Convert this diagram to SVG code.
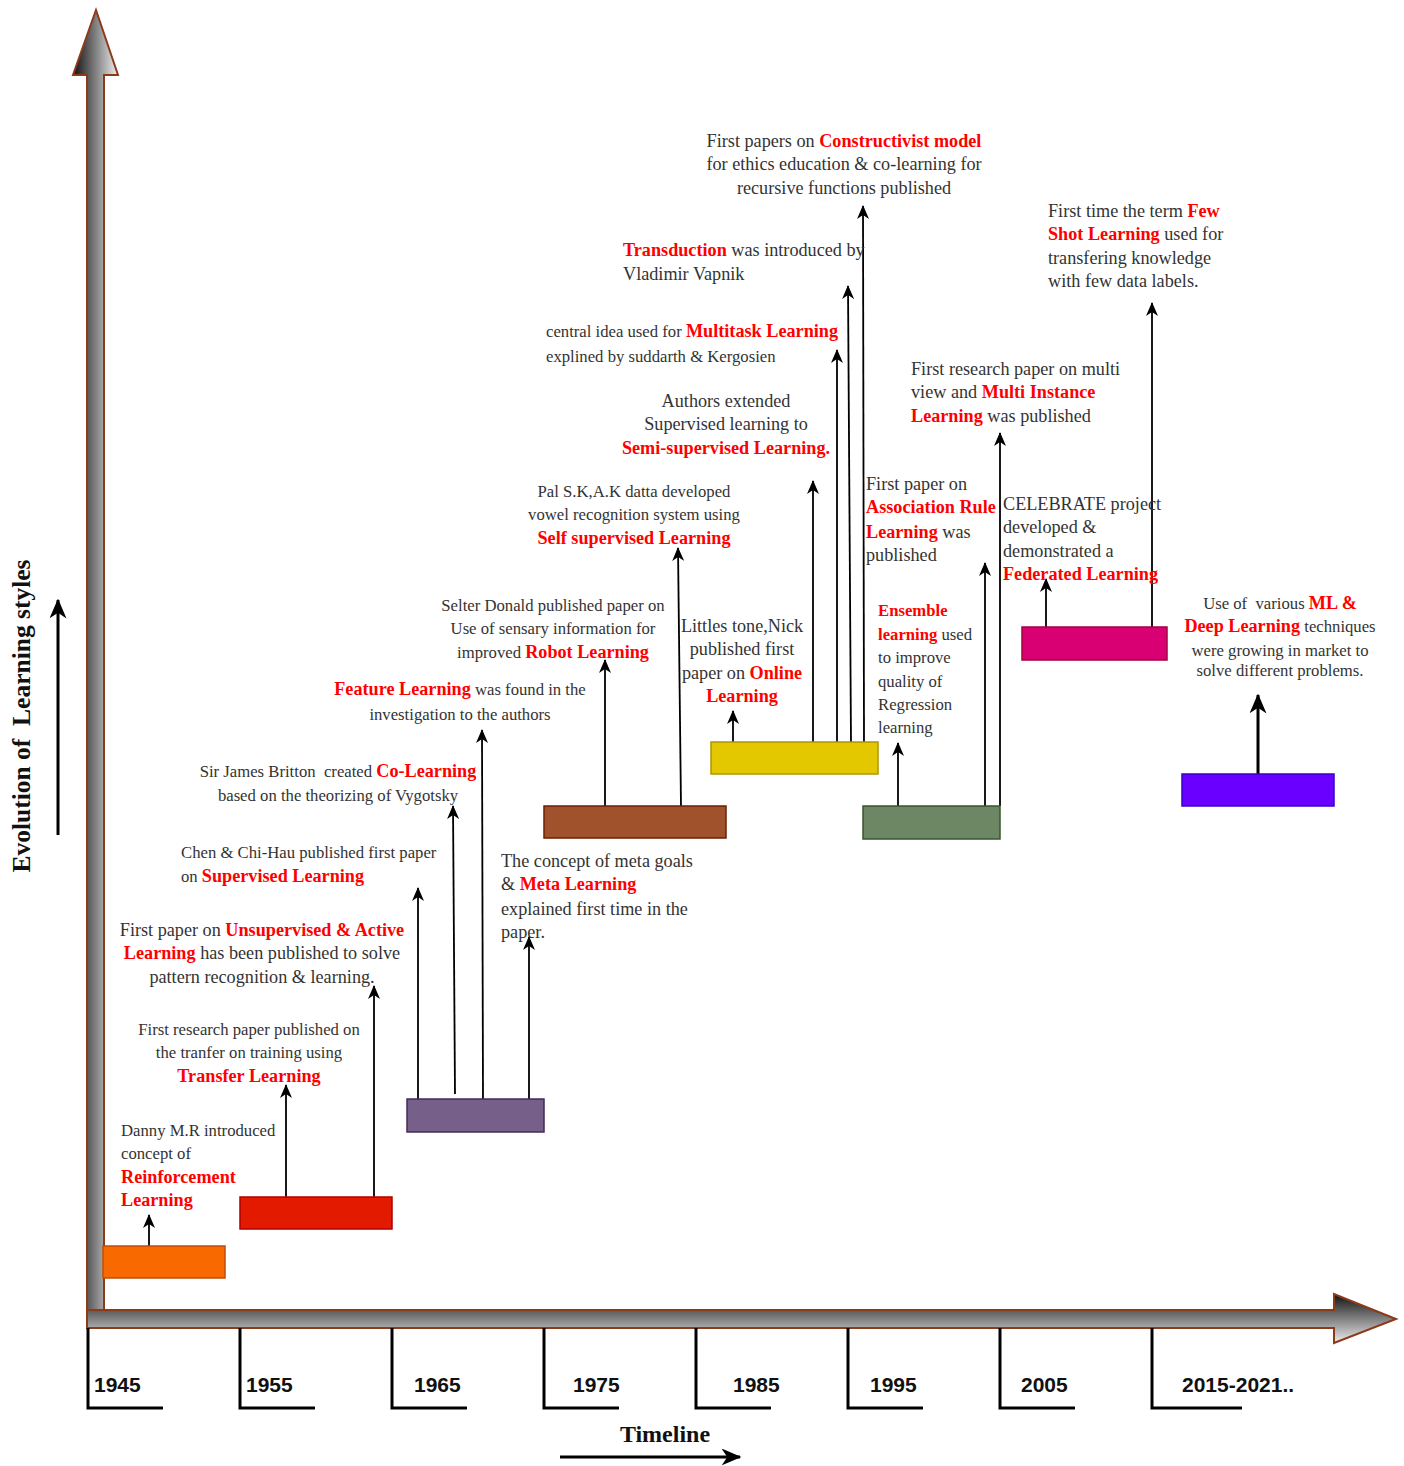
<svg xmlns="http://www.w3.org/2000/svg" width="1404" height="1466" viewBox="0 0 1404 1466">
<defs>
<linearGradient id="gv" x1="0" y1="0" x2="1" y2="0">
<stop offset="0" stop-color="#111"/><stop offset="1" stop-color="#eee"/>
</linearGradient>
<linearGradient id="gh" x1="0" y1="0" x2="0" y2="1">
<stop offset="0" stop-color="#111"/><stop offset="1" stop-color="#eee"/>
</linearGradient>
<marker id="ah" viewBox="0 0 14 12" refX="13" refY="6" markerWidth="14" markerHeight="12" markerUnits="userSpaceOnUse" orient="auto">
<path d="M0,0 L14,6 L0,12 L4,6 Z" fill="#000"/>
</marker>
<marker id="ahb" viewBox="0 0 14 12" refX="13" refY="6" markerWidth="20" markerHeight="17" markerUnits="userSpaceOnUse" orient="auto">
<path d="M0,0 L14,6 L0,12 L4,6 Z" fill="#000"/>
</marker>
</defs>
<style>
.t{font-family:"Liberation Serif","Times New Roman",serif;font-size:18.2px;fill:#333;}
.s{font-size:16.7px;}
.r{font-weight:bold;fill:#ff0000;font-size:18.2px;}
.m{text-anchor:middle;}
.yr{font-family:"Liberation Sans",Arial,sans-serif;font-weight:bold;font-size:21px;fill:#111;}
.ax{fill:none;stroke:#000;stroke-width:3;}
.c{stroke:#000;stroke-width:1.8;fill:none;marker-end:url(#ah);}
.b{stroke-width:1.5;}
</style>
<rect width="1404" height="1466" fill="#fff"/>

<g id="axes">
<polygon points="87,1310 87,75 73,75 96,10 118,75 104,75 104,1310" fill="url(#gv)" stroke="#8B3A1A" stroke-width="2"/>
<polygon points="87,1310 1334,1310 1334,1294 1396,1319 1334,1343 1334,1328 87,1328" fill="url(#gh)" stroke="#8B3A1A" stroke-width="2"/>
</g>

<g id="timeline-ticks">
<path class="ax" d="M88,1328 V1408 H163"/>
<path class="ax" d="M240,1328 V1408 H315"/>
<path class="ax" d="M392,1328 V1408 H467"/>
<path class="ax" d="M544,1328 V1408 H619"/>
<path class="ax" d="M696,1328 V1408 H771"/>
<path class="ax" d="M848,1328 V1408 H923"/>
<path class="ax" d="M1000,1328 V1408 H1075"/>
<path class="ax" d="M1152,1328 V1408 H1242"/>
<text class="yr" x="94" y="1392">1945</text>
<text class="yr" x="246" y="1392">1955</text>
<text class="yr" x="414" y="1392">1965</text>
<text class="yr" x="573" y="1392">1975</text>
<text class="yr" x="733" y="1392">1985</text>
<text class="yr" x="870" y="1392">1995</text>
<text class="yr" x="1021" y="1392">2005</text>
<text class="yr" x="1182" y="1392">2015-2021..</text>
</g>

<g id="axis-titles">
<text x="665" y="1442" text-anchor="middle" style="font-family:'Liberation Serif',serif;font-weight:bold;font-size:24px;fill:#111;">Timeline</text>
<line x1="560" y1="1457" x2="740" y2="1457" stroke="#000" stroke-width="3" marker-end="url(#ahb)"/>
<text transform="translate(30,716) rotate(-90)" text-anchor="middle" style="font-family:'Liberation Serif',serif;font-weight:bold;font-size:25.5px;fill:#111;">Evolution of&#160; Learning styles</text>
<line x1="58" y1="835" x2="58" y2="600" stroke="#000" stroke-width="3" marker-end="url(#ahb)"/>
</g>

<g id="connectors">
<line class="c" x1="149" y1="1246" x2="149" y2="1215"/>
<line class="c" x1="286" y1="1197" x2="286" y2="1085"/>
<line class="c" x1="374" y1="1197" x2="374" y2="986"/>
<line class="c" x1="418" y1="1099" x2="418" y2="888"/>
<line class="c" x1="455" y1="1094" x2="453" y2="806"/>
<line class="c" x1="483" y1="1099" x2="482" y2="730"/>
<line class="c" x1="529" y1="1099" x2="529" y2="937"/>
<line class="c" x1="605" y1="806" x2="605" y2="660"/>
<line class="c" x1="681" y1="806" x2="678" y2="548"/>
<line class="c" x1="733" y1="742" x2="733" y2="711"/>
<line class="c" x1="813" y1="742" x2="813" y2="481"/>
<line class="c" x1="837" y1="742" x2="837" y2="350"/>
<line class="c" x1="851" y1="742" x2="848" y2="286"/>
<line class="c" x1="864" y1="744" x2="863" y2="206"/>
<line class="c" x1="898" y1="806" x2="898" y2="743"/>
<line class="c" x1="985" y1="806" x2="985" y2="563"/>
<line class="c" x1="1000" y1="806" x2="1000" y2="433"/>
<line class="c" x1="1046" y1="627" x2="1046" y2="579"/>
<line class="c" x1="1152" y1="627" x2="1152" y2="303"/>
<line x1="1258" y1="774" x2="1258" y2="695" stroke="#000" stroke-width="3" marker-end="url(#ahb)"/>
</g>

<g id="n1945"><rect x="103" y="1246" width="122" height="32" fill="#F86A00" stroke="#C04F0A" class="b"/></g>
<g id="n1955"><rect x="240" y="1197" width="152" height="32" fill="#E31A00" stroke="#B20000" class="b"/></g>
<g id="n1965"><rect x="407" y="1099" width="137" height="33" fill="#76608A" stroke="#432D57" class="b"/></g>
<g id="n1975"><rect x="544" y="806" width="182" height="32" fill="#A0522D" stroke="#6D1F00" class="b"/></g>
<g id="n1985"><rect x="711" y="742" width="167" height="32" fill="#E3C800" stroke="#B09500" class="b"/></g>
<g id="n1995"><rect x="863" y="806" width="137" height="33" fill="#6D8764" stroke="#3A5431" class="b"/></g>
<g id="n2005"><rect x="1022" y="627" width="145" height="33" fill="#D80073" stroke="#A50040" class="b"/></g>
<g id="n2015"><rect x="1182" y="774" width="152" height="32" fill="#6A00FF" stroke="#3700CC" class="b"/></g>

<g id="l-reinforcement" class="t">
<text x="121" y="1136" class="s">Danny M.R introduced</text>
<text x="121" y="1159" class="s">concept of</text>
<text x="121" y="1183" class="r">Reinforcement</text>
<text x="121" y="1206" class="r">Learning</text>
</g>
<g id="l-transfer" class="t m">
<text x="249" y="1035" class="s">First research paper published on</text>
<text x="249" y="1058" class="s">the tranfer on training using</text>
<text x="249" y="1082" class="r">Transfer Learning</text>
</g>
<g id="l-unsupervised" class="t m">
<text x="262" y="936">First paper on <tspan class="r">Unsupervised &amp; Active</tspan></text>
<text x="262" y="959"><tspan class="r">Learning</tspan> has been published to solve</text>
<text x="262" y="983">pattern recognition &amp; learning.</text>
</g>
<g id="l-supervised" class="t">
<text x="181" y="858" class="s">Chen &amp; Chi-Hau published first paper</text>
<text x="181" y="882" class="s">on <tspan class="r">Supervised Learning</tspan></text>
</g>
<g id="l-colearning" class="t m">
<text x="338" y="777" class="s">Sir James Britton&#160; created <tspan class="r">Co-Learning</tspan></text>
<text x="338" y="801" class="s">based on the theorizing of Vygotsky</text>
</g>
<g id="l-feature" class="t m">
<text x="460" y="695" class="s"><tspan class="r">Feature Learning</tspan> was found in the</text>
<text x="460" y="720" class="s">investigation to the authors</text>
</g>
<g id="l-meta" class="t">
<text x="501" y="867">The concept of meta goals</text>
<text x="501" y="890">&amp; <tspan class="r">Meta Learning</tspan></text>
<text x="501" y="915">explained first time in the</text>
<text x="501" y="938">paper.</text>
</g>
<g id="l-robot" class="t m">
<text x="553" y="611" class="s">Selter Donald published paper on</text>
<text x="553" y="634" class="s">Use of sensary information for</text>
<text x="553" y="658" class="s">improved <tspan class="r">Robot Learning</tspan></text>
</g>
<g id="l-self" class="t m">
<text x="634" y="497" class="s">Pal S.K,A.K datta developed</text>
<text x="634" y="520" class="s">vowel recognition system using</text>
<text x="634" y="544" class="r">Self supervised Learning</text>
</g>
<g id="l-online" class="t m">
<text x="742" y="632">Littles tone,Nick</text>
<text x="742" y="655">published first</text>
<text x="742" y="679">paper on <tspan class="r">Online</tspan></text>
<text x="742" y="702" class="r">Learning</text>
</g>
<g id="l-semi" class="t m">
<text x="726" y="407">Authors extended</text>
<text x="726" y="430">Supervised learning to</text>
<text x="726" y="454" class="r">Semi-supervised Learning.</text>
</g>
<g id="l-multitask" class="t">
<text x="546" y="337" class="s">central idea used for <tspan class="r">Multitask Learning</tspan></text>
<text x="546" y="362" class="s">explined by suddarth &amp; Kergosien</text>
</g>
<g id="l-transduction" class="t">
<text x="623" y="256"><tspan class="r">Transduction</tspan> was introduced by</text>
<text x="623" y="280">Vladimir Vapnik</text>
</g>
<g id="l-constructivist" class="t m">
<text x="844" y="147">First papers on <tspan class="r">Constructivist model</tspan></text>
<text x="844" y="170">for ethics education &amp; co-learning for</text>
<text x="844" y="194">recursive functions published</text>
</g>
<g id="l-ensemble" class="t">
<text x="878" y="616" class="s r" style="font-size:16.7px">Ensemble</text>
<text x="878" y="640" class="s"><tspan class="r" style="font-size:16.7px">learning</tspan> used</text>
<text x="878" y="663" class="s">to improve</text>
<text x="878" y="687" class="s">quality of</text>
<text x="878" y="710" class="s">Regression</text>
<text x="878" y="733" class="s">learning</text>
</g>
<g id="l-association" class="t">
<text x="866" y="490">First paper on</text>
<text x="866" y="513" class="r">Association Rule</text>
<text x="866" y="538"><tspan class="r">Learning</tspan> was</text>
<text x="866" y="561">published</text>
</g>
<g id="l-multiinstance" class="t">
<text x="911" y="375">First research paper on multi</text>
<text x="911" y="398">view and <tspan class="r">Multi Instance</tspan></text>
<text x="911" y="422"><tspan class="r">Learning</tspan> was published</text>
</g>
<g id="l-federated" class="t">
<text x="1003" y="510">CELEBRATE project</text>
<text x="1003" y="533">developed &amp;</text>
<text x="1003" y="557">demonstrated a</text>
<text x="1003" y="580" class="r">Federated Learning</text>
</g>
<g id="l-fewshot" class="t">
<text x="1048" y="217">First time the term <tspan class="r">Few</tspan></text>
<text x="1048" y="240"><tspan class="r">Shot Learning</tspan> used for</text>
<text x="1048" y="264">transfering knowledge</text>
<text x="1048" y="287">with few data labels.</text>
</g>
<g id="l-deep" class="t m">
<text x="1280" y="609" class="s">Use of&#160; various <tspan class="r">ML &amp;</tspan></text>
<text x="1280" y="632" class="s"><tspan class="r">Deep Learning</tspan> techniques</text>
<text x="1280" y="656" class="s">were growing in market to</text>
<text x="1280" y="676" class="s">solve different problems.</text>
</g>
</svg>
